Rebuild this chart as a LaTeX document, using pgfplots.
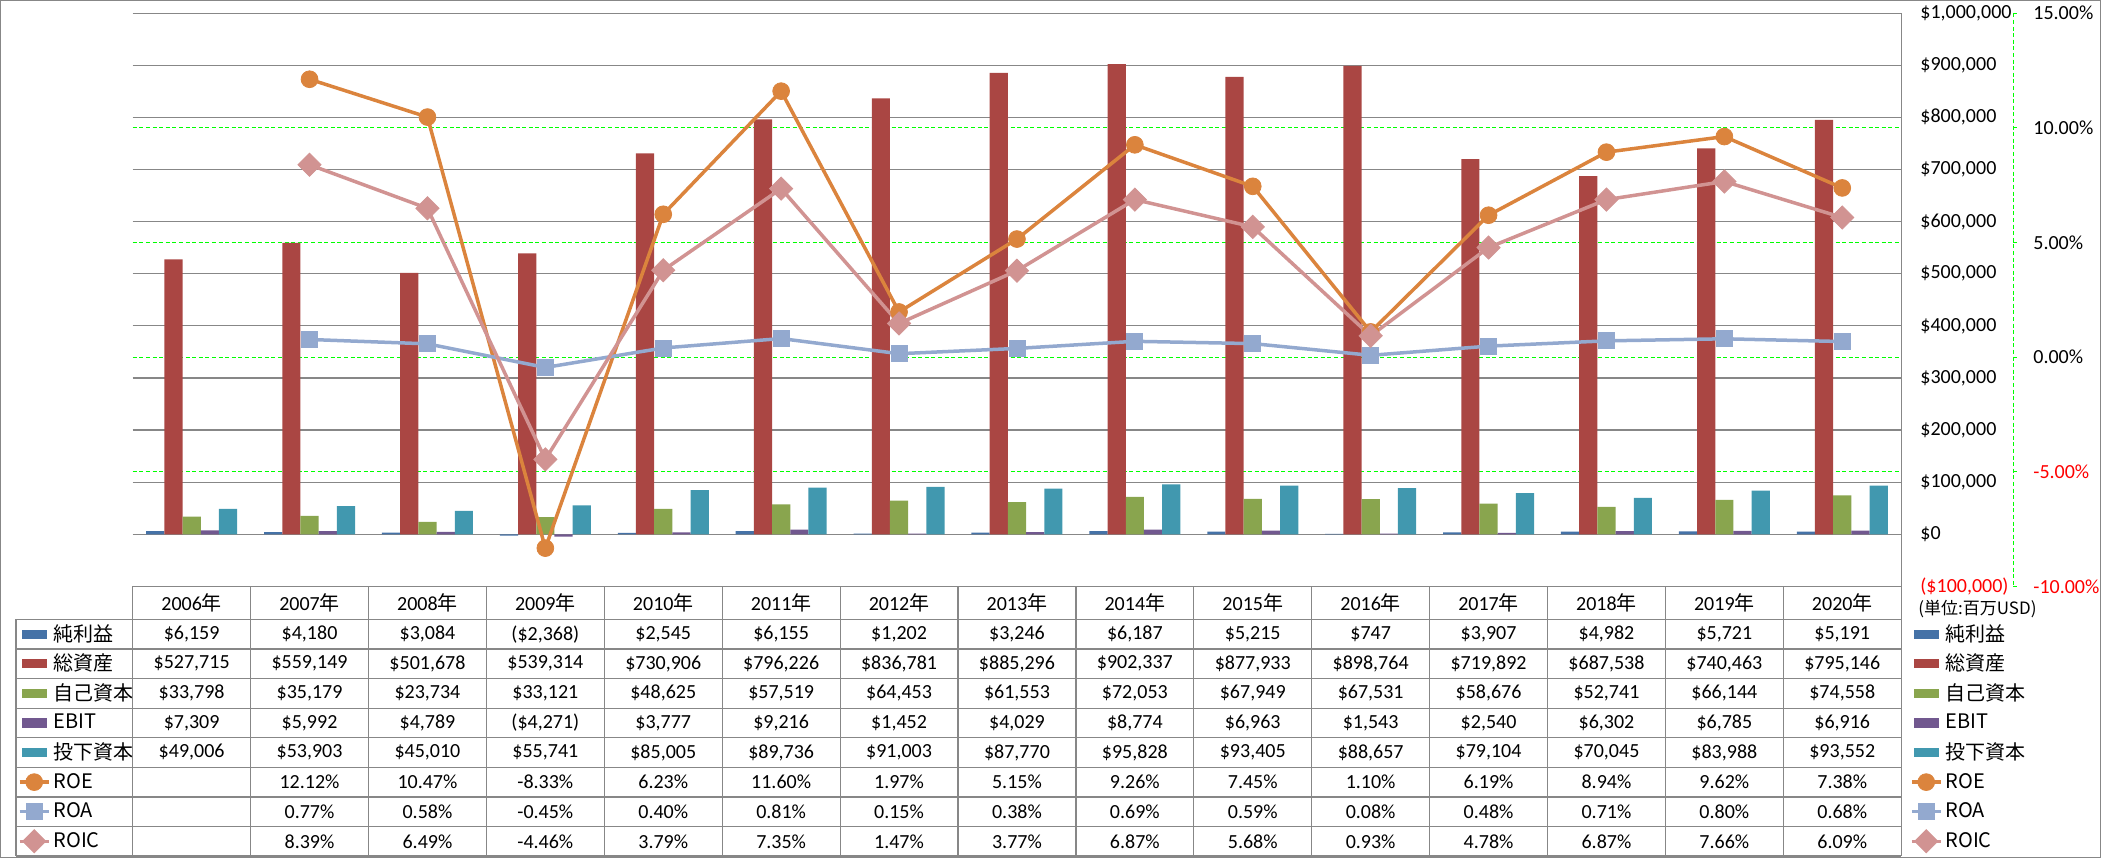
\documentclass[border=0pt]{standalone}
\usepackage{fontspec}
\setmainfont{Carlito}
\newfontfamily\jp{Noto Sans CJK JP}
\usepackage{pgfplots}
\pgfplotsset{compat=1.18}
\definecolor{cA}{HTML}{4572A7}
\definecolor{cB}{HTML}{AA4643}
\definecolor{cC}{HTML}{89A54E}
\definecolor{cD}{HTML}{71588F}
\definecolor{cE}{HTML}{4198AF}
\definecolor{cROE}{HTML}{DB843D}
\definecolor{cROA}{HTML}{93A9CF}
\definecolor{cROIC}{HTML}{D19392}
\definecolor{gridgray}{HTML}{878787}
\definecolor{glime}{HTML}{00FF00}
\pgfplotsset{
  barleg/.style={legend image code/.code={\fill[##1] (1pt,-2.3pt) rectangle (13.5pt,2.3pt);}},
  lineleg/.style={legend image code/.code={\draw[mark repeat=2,mark phase=2,##1] plot coordinates {(0pt,0pt) (7.25pt,0pt) (14.5pt,0pt)};}},
  roestyle/.style={color=cROE, line width=1.75pt, mark=*, mark size=4.2pt, mark options={solid, line width=0.4pt}},
  roastyle/.style={color=cROA, line width=1.75pt, mark=square*, mark size=4pt, mark options={solid, line width=0.4pt}},
  roicstyle/.style={color=cROIC, line width=1.75pt, mark=square*, mark size=4.1pt, mark options={solid, rotate=45, line width=0.4pt}},
  mylegend/.style={legend cell align=left, legend style={draw=none, fill=none, inner sep=0pt, outer sep=0pt, row sep=0pt, column sep=1.5pt, anchor=north west, at={(#1,-0.0574)}, nodes={inner sep=0pt, minimum height=14.8pt}}},
  commonaxis/.style={scale only axis, width=884.25pt, height=286.6pt, at={(66.35pt,-293.2pt)}, anchor=south west, xmin=-0.5, xmax=14.5, xtick=\empty, axis line style={draw=none}, major tick length=0pt, clip=false},
}
\begin{document}
\begin{tikzpicture}[font=\fontsize{10}{12}\selectfont]
\useasboundingbox (0pt,0pt) rectangle (1050.5pt,-429pt);
% ---------- primary axis: bars ----------
\begin{axis}[commonaxis, ymin=-100000, ymax=1000000, scaled y ticks=false,
  ytick={-100000,0,100000,200000,300000,400000,500000,600000,700000,800000,900000,1000000},
  yticklabels={{\textcolor{red}{(\$100,000)}},{\$0},{\$100,000},{\$200,000},{\$300,000},{\$400,000},{\$500,000},{\$600,000},{\$700,000},{\$800,000},{\$900,000},{\$1,000,000}},
  yticklabel pos=right, yticklabel style={anchor=west, inner sep=0pt, xshift=9.4pt},
  ymajorgrids, major grid style={gridgray, line width=0.6pt},
  extra y ticks={120000,340000,560000,780000}, extra y tick labels={},
  extra y tick style={grid=major, major grid style={glime, line width=0.55pt, dash pattern=on 2pt off 1.3pt}},
  mylegend=-0.06486]
\addplot[ybar, bar width=9.1pt, bar shift=-18.2pt, fill=cA, draw=none, barleg] coordinates {(0,6159) (1,4180) (2,3084) (3,-2368) (4,2545) (5,6155) (6,1202) (7,3246) (8,6187) (9,5215) (10,747) (11,3907) (12,4982) (13,5721) (14,5191)};
\addlegendentry{\jp 純利益}
\addplot[ybar, bar width=9.1pt, bar shift=-9.1pt, fill=cB, draw=none, barleg] coordinates {(0,527715) (1,559149) (2,501678) (3,539314) (4,730906) (5,796226) (6,836781) (7,885296) (8,902337) (9,877933) (10,898764) (11,719892) (12,687538) (13,740463) (14,795146)};
\addlegendentry{\jp 総資産}
\addplot[ybar, bar width=9.1pt, bar shift=0pt, fill=cC, draw=none, barleg] coordinates {(0,33798) (1,35179) (2,23734) (3,33121) (4,48625) (5,57519) (6,64453) (7,61553) (8,72053) (9,67949) (10,67531) (11,58676) (12,52741) (13,66144) (14,74558)};
\addlegendentry{\jp 自己資本}
\addplot[ybar, bar width=9.1pt, bar shift=9.1pt, fill=cD, draw=none, barleg] coordinates {(0,7309) (1,5992) (2,4789) (3,-4271) (4,3777) (5,9216) (6,1452) (7,4029) (8,8774) (9,6963) (10,1543) (11,2540) (12,6302) (13,6785) (14,6916)};
\addlegendentry{\jp EBIT}
\addplot[ybar, bar width=9.1pt, bar shift=18.2pt, fill=cE, draw=none, barleg] coordinates {(0,49006) (1,53903) (2,45010) (3,55741) (4,85005) (5,89736) (6,91003) (7,87770) (8,95828) (9,93405) (10,88657) (11,79104) (12,70045) (13,83988) (14,93552)};
\addlegendentry{\jp 投下資本}
\addlegendimage{roestyle, lineleg}\addlegendentry{\jp ROE}
\addlegendimage{roastyle, lineleg}\addlegendentry{\jp ROA}
\addlegendimage{roicstyle, lineleg}\addlegendentry{\jp ROIC}
\end{axis}
% ---------- secondary axis: ratios ----------
\begin{axis}[commonaxis, ymin=-10, ymax=15,
  ytick={-10,-5,0,5,10,15},
  yticklabels={{\textcolor{red}{-10.00\%}},{\textcolor{red}{-5.00\%}},{0.00\%},{5.00\%},{10.00\%},{15.00\%}},
  yticklabel pos=right, yticklabel style={anchor=west, inner sep=0pt, xshift=65.9pt},
  mylegend=1.00498]
\addlegendimage{fill=cA, draw=none, barleg}\addlegendentry{\jp 純利益}
\addlegendimage{fill=cB, draw=none, barleg}\addlegendentry{\jp 総資産}
\addlegendimage{fill=cC, draw=none, barleg}\addlegendentry{\jp 自己資本}
\addlegendimage{fill=cD, draw=none, barleg}\addlegendentry{\jp EBIT}
\addlegendimage{fill=cE, draw=none, barleg}\addlegendentry{\jp 投下資本}
\addplot[roestyle, lineleg] coordinates {(1,12.12) (2,10.47) (3,-8.33) (4,6.23) (5,11.60) (6,1.97) (7,5.15) (8,9.26) (9,7.45) (10,1.10) (11,6.19) (12,8.94) (13,9.62) (14,7.38)};
\addlegendentry{\jp ROE}
\addplot[roastyle, lineleg] coordinates {(1,0.77) (2,0.58) (3,-0.45) (4,0.40) (5,0.81) (6,0.15) (7,0.38) (8,0.69) (9,0.59) (10,0.08) (11,0.48) (12,0.71) (13,0.80) (14,0.68)};
\addlegendentry{\jp ROA}
\addplot[roicstyle, lineleg] coordinates {(1,8.39) (2,6.49) (3,-4.46) (4,3.79) (5,7.35) (6,1.47) (7,3.77) (8,6.87) (9,5.68) (10,0.93) (11,4.78) (12,6.87) (13,7.66) (14,6.09)};
\addlegendentry{\jp ROIC}
\end{axis}
% ---------- frame, axis lines, data table (pixel units) ----------
\begin{scope}[x=0.5pt, y=-0.5pt]
\draw[gridgray, line width=0.5pt] (0.5,0.5) rectangle (2100.5,857.5);
% primary axis line / table right border
\draw[gridgray, line width=0.6pt] (1901.2,13.3) -- (1901.2,856);
% secondary axis line
\draw[glime, line width=0.55pt, dash pattern=on 2pt off 1.3pt] (2013.3,13.3) -- (2013.3,586.4);
\foreach \p in {15,10,5,0,-5,-10} \draw[glime, line width=0.55pt] (2013.3,{13.3+(15-\p)*22.92}) -- (2017,{13.3+(15-\p)*22.92});
\node[anchor=west, inner sep=0pt, font=\jp\fontsize{8.5}{10}\selectfont] at (1918,609) {(単位:百万USD)};
% table grid
\foreach \k in {0,...,15} \draw[gridgray, line width=0.6pt] ({132.7+117.9*\k},586.4) -- ({132.7+117.9*\k},856);
\draw[gridgray, line width=0.6pt] (16,619.3) -- (16,856);
\foreach \r in {0,...,7} \draw[gridgray, line width=0.6pt] (16,{619.3+29.6*\r}) -- (1901.2,{619.3+29.6*\r});
\draw[gridgray, line width=0.6pt] (16,856) -- (1901.2,856);
% header
\foreach \y [count=\c from 0] in {2006,2007,2008,2009,2010,2011,2012,2013,2014,2015,2016,2017,2018,2019,2020}
  \node[inner sep=0pt] at ({132.7+117.9*(\c+0.5)},602.9) {\y{\jp 年}};
% values
\foreach \row [count=\r from 0] in {%
 {{\$6,159},{\$4,180},{\$3,084},{(\$2,368)},{\$2,545},{\$6,155},{\$1,202},{\$3,246},{\$6,187},{\$5,215},{\$747},{\$3,907},{\$4,982},{\$5,721},{\$5,191}},%
 {{\$527,715},{\$559,149},{\$501,678},{\$539,314},{\$730,906},{\$796,226},{\$836,781},{\$885,296},{\$902,337},{\$877,933},{\$898,764},{\$719,892},{\$687,538},{\$740,463},{\$795,146}},%
 {{\$33,798},{\$35,179},{\$23,734},{\$33,121},{\$48,625},{\$57,519},{\$64,453},{\$61,553},{\$72,053},{\$67,949},{\$67,531},{\$58,676},{\$52,741},{\$66,144},{\$74,558}},%
 {{\$7,309},{\$5,992},{\$4,789},{(\$4,271)},{\$3,777},{\$9,216},{\$1,452},{\$4,029},{\$8,774},{\$6,963},{\$1,543},{\$2,540},{\$6,302},{\$6,785},{\$6,916}},%
 {{\$49,006},{\$53,903},{\$45,010},{\$55,741},{\$85,005},{\$89,736},{\$91,003},{\$87,770},{\$95,828},{\$93,405},{\$88,657},{\$79,104},{\$70,045},{\$83,988},{\$93,552}},%
 {{},{12.12\%},{10.47\%},{-8.33\%},{6.23\%},{11.60\%},{1.97\%},{5.15\%},{9.26\%},{7.45\%},{1.10\%},{6.19\%},{8.94\%},{9.62\%},{7.38\%}},%
 {{},{0.77\%},{0.58\%},{-0.45\%},{0.40\%},{0.81\%},{0.15\%},{0.38\%},{0.69\%},{0.59\%},{0.08\%},{0.48\%},{0.71\%},{0.80\%},{0.68\%}},%
 {{},{8.39\%},{6.49\%},{-4.46\%},{3.79\%},{7.35\%},{1.47\%},{3.77\%},{6.87\%},{5.68\%},{0.93\%},{4.78\%},{6.87\%},{7.66\%},{6.09\%}}%
}{%
  \foreach \v [count=\c from 0] in \row
    \node[inner sep=0pt] at ({132.7+117.9*(\c+0.5)},{634.1+29.6*\r}) {\v};
}
\end{scope}
\end{tikzpicture}
\end{document}
